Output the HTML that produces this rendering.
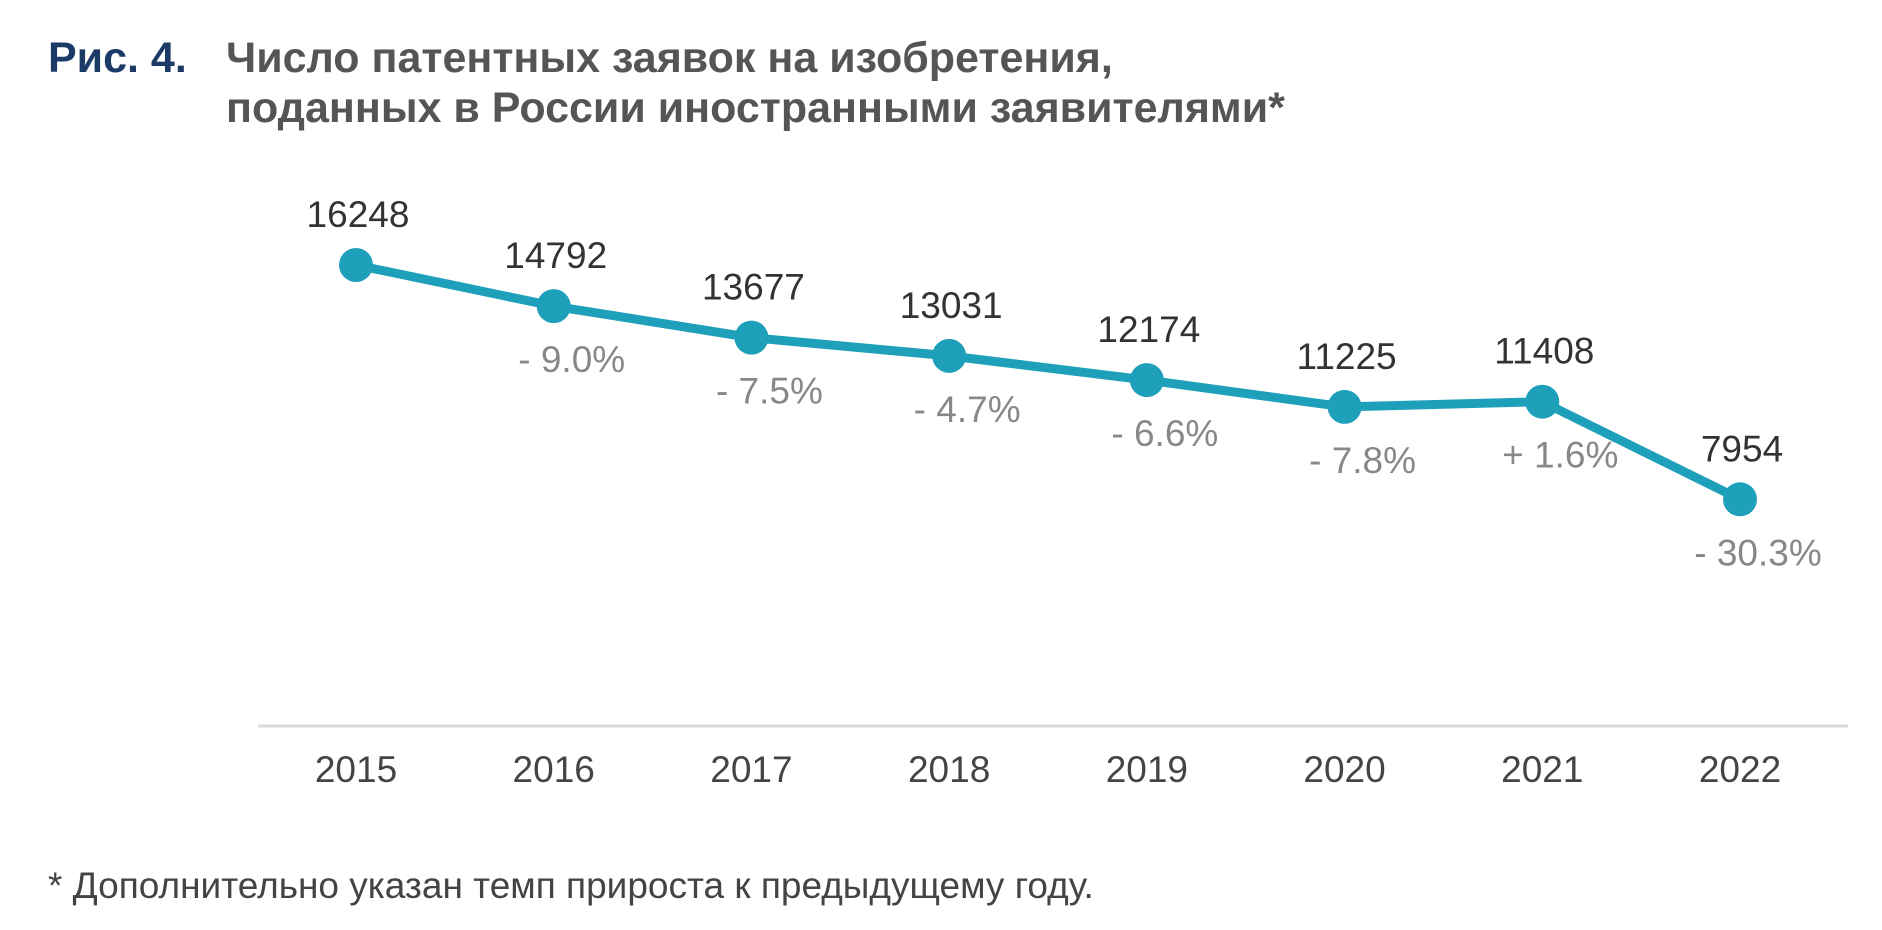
<!DOCTYPE html>
<html><head><meta charset="utf-8"><style>
body{margin:0;background:#fff;}
svg{display:block;font-family:"Liberation Sans","Noto Sans CJK SC",sans-serif;}
</style></head><body>
<svg width="1882" height="930" viewBox="0 0 1882 930">
<text x="48" y="72" font-size="43" font-weight="bold" fill="#1b3a66">Рис. 4.</text>
<text x="226" y="72" font-size="43" font-weight="bold" fill="#555">Число патентных заявок на изобретения,</text>
<text x="226" y="122" font-size="43" font-weight="bold" fill="#555">поданных в России иностранными заявителями*</text>
<line x1="258" y1="726" x2="1848" y2="726" stroke="#d9d9d9" stroke-width="3"/>
<g id="plot"></g>
<text x="48" y="898" font-size="37" fill="#444">* Дополнительно указан темп прироста к предыдущему году.</text>
</svg>
<script>
const years=["2015","2016","2017","2018","2019","2020","2021","2022"];
const values=[16248,14792,13677,13031,12174,11225,11408,7954];
const growth=["","- 9.0%","- 7.5%","- 4.7%","- 6.6%","- 7.8%","+ 1.6%","- 30.3%"];
const NS="http://www.w3.org/2000/svg";
const g=document.getElementById('plot');
const x0=356,x1=1740,yBase=724,yTop=265,vTop=16248;
function xs(i){return x0+(x1-x0)*i/(years.length-1);}
function ys(v){return yBase-(yBase-yTop)*v/vTop;}
function mk(tag,attrs){const e=document.createElementNS(NS,tag);for(const k in attrs)e.setAttribute(k,attrs[k]);g.appendChild(e);return e;}
const line=mk('polyline',{points:values.map((v,i)=>xs(i)+','+ys(v)).join(' '),fill:'none',stroke:'#1fa0ba','stroke-width':9,'stroke-linejoin':'round'});


values.forEach((v,i)=>{
 const c=mk('circle',{cx:xs(i),cy:ys(v),r:17,fill:'#1fa0ba'});
 
 
 const t=mk('text',{x:xs(i)+2,y:ys(v)-38,'font-size':37,fill:'#333','text-anchor':'middle'});
 t.textContent=v;
 
 
 if(growth[i]){
  const p=mk('text',{x:xs(i)+18,y:ys(v)+66,'font-size':37,fill:'#888','text-anchor':'middle'});
  p.textContent=growth[i];
  
  
 }
 const y=mk('text',{x:xs(i),y:782,'font-size':37,fill:'#444','text-anchor':'middle'});
 y.textContent=years[i];
 
 
});
</script>
</body></html>
